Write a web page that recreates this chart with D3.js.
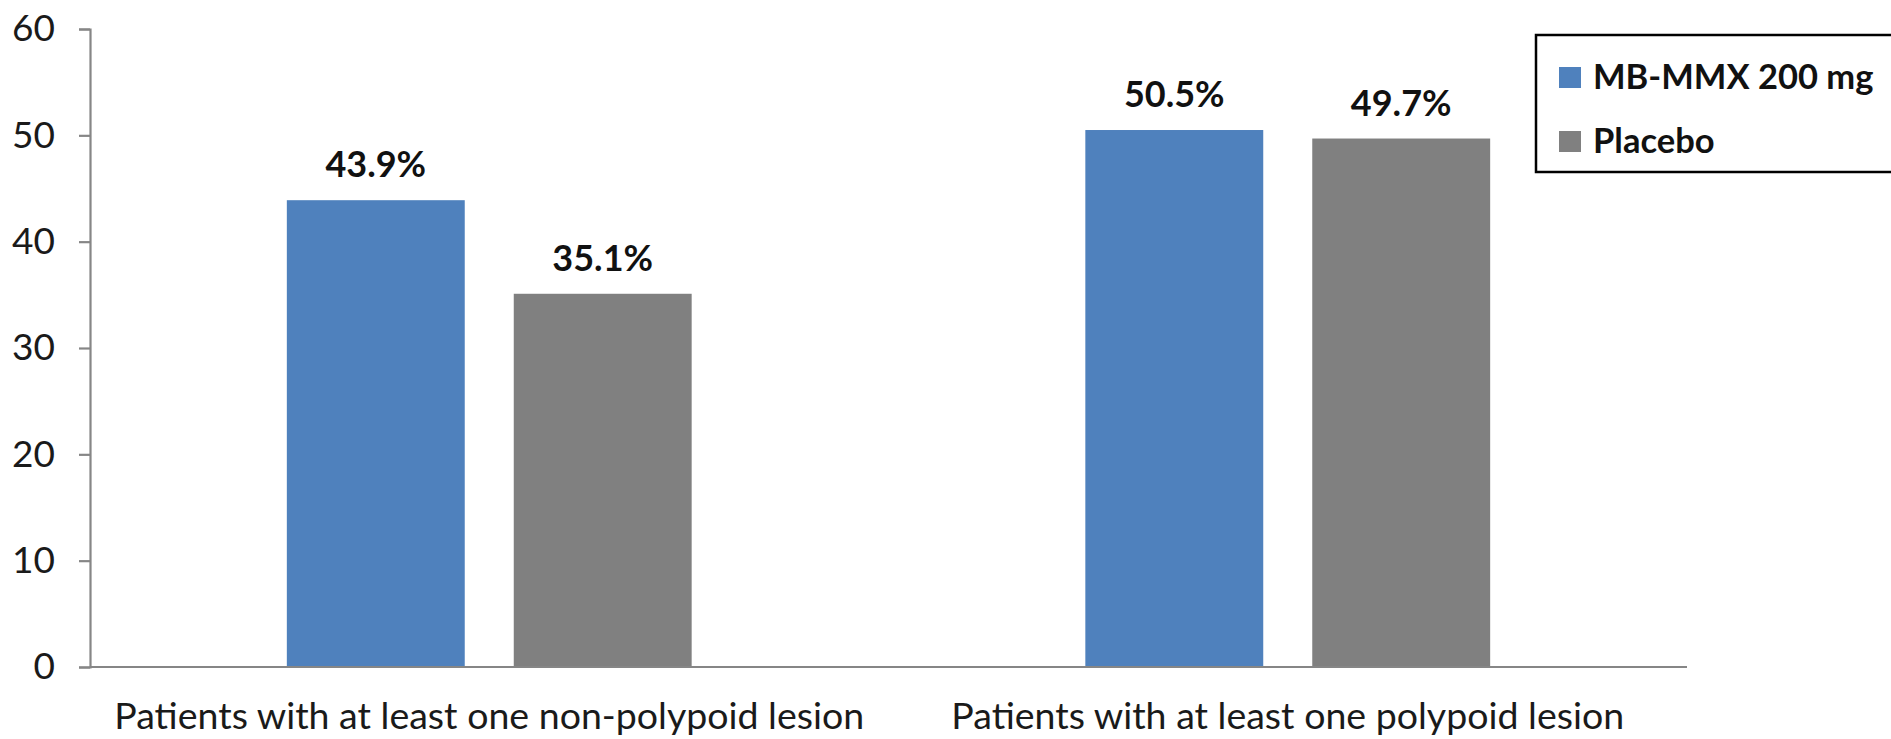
<!DOCTYPE html>
<html>
<head>
<meta charset="utf-8">
<script src="https://cdn.jsdelivr.net/npm/d3@7"></script>
<style>
  html, body { margin: 0; padding: 0; background: #fff; }
  svg { display: block; }
  text { font-family: Lato, "Open Sans", sans-serif; }
</style>
</head>
<body>
<svg id="chart" width="1891" height="739"></svg>
<script>
// Share of patients with detected lesions, by treatment arm (%)
const categories = [
  "Patients with at least one non-polypoid lesion",
  "Patients with at least one polypoid lesion"
];
const seriesNames = ["MB-MMX 200 mg", "Placebo"];
const mbMmxValues = [43.9, 50.5];
const placeboValues = [35.1, 49.7];
const yTicks = [0, 10, 20, 30, 40, 50, 60];

const colors = { "MB-MMX 200 mg": "#4f81bd", "Placebo": "#808080" };

const W = 1891, H = 739;
const margin = { top: 29, right: 204, bottom: 72, left: 90 };
const innerW = W - margin.left - margin.right;
const innerH = H - margin.top - margin.bottom;

const svg = d3.select("#chart");
const g = svg.append("g").attr("transform", `translate(${margin.left},${margin.top})`);

const y = d3.scaleLinear().domain([0, 60]).range([innerH, 0]);
const x0 = d3.scaleBand().domain(categories).range([0, innerW])
  .paddingInner(0.493).paddingOuter(0.2465);
const x1 = d3.scaleBand().domain(seriesNames).range([0, x0.bandwidth()])
  .paddingInner(0.216).paddingOuter(0);

const rows = categories.map((c, i) => ({
  category: c,
  values: [
    { series: seriesNames[0], value: mbMmxValues[i] },
    { series: seriesNames[1], value: placeboValues[i] }
  ]
}));

// Y axis
const yAxis = g.append("g")
  .call(d3.axisLeft(y).tickValues(yTicks).tickSize(11).tickPadding(24).tickFormat(d3.format("d")));
yAxis.select(".domain").attr("stroke", "#868686").attr("stroke-width", 2.2);
yAxis.selectAll(".tick line").attr("stroke", "#868686").attr("stroke-width", 2.2);
yAxis.selectAll(".tick text")
  .attr("fill", "#1a1a1a")
  .style("font-family", "Lato, sans-serif")
  .style("font-size", "37px");

// Bars
const groups = g.selectAll(".grp").data(rows).join("g")
  .attr("class", "grp")
  .attr("transform", d => `translate(${x0(d.category)},0)`);

groups.selectAll("rect").data(d => d.values).join("rect")
  .attr("x", d => x1(d.series))
  .attr("width", x1.bandwidth())
  .attr("y", d => y(d.value))
  .attr("height", d => innerH - y(d.value))
  .attr("fill", d => colors[d.series]);

groups.selectAll(".val").data(d => d.values).join("text")
  .attr("class", "val")
  .attr("x", d => x1(d.series) + x1.bandwidth() / 2)
  .attr("y", d => y(d.value) - 23)
  .attr("text-anchor", "middle")
  .attr("fill", "#111")
  .style("font-weight", "700")
  .style("font-size", "36px")
  .text(d => d.value.toFixed(1) + "%");

// X axis baseline
g.append("line")
  .attr("x1", 0).attr("x2", innerW)
  .attr("y1", innerH).attr("y2", innerH)
  .attr("stroke", "#868686").attr("stroke-width", 2.2);

// Category labels under each group
g.selectAll(".cat").data(categories).join("text")
  .attr("class", "cat")
  .attr("x", d => x0(d) + x0.bandwidth() / 2)
  .attr("y", innerH + 62)
  .attr("text-anchor", "middle")
  .attr("fill", "#1a1a1a")
  .style("font-size", "37.5px")
  .text(d => d);

// Legend
const legend = svg.append("g").attr("transform", "translate(1536,35)");
legend.append("rect")
  .attr("x", 0).attr("y", 0).attr("width", 358).attr("height", 137)
  .attr("fill", "#fff").attr("stroke", "#000").attr("stroke-width", 2.5);
const items = legend.selectAll(".item").data(seriesNames).join("g")
  .attr("class", "item")
  .attr("transform", (d, i) => `translate(23,${32 + i * 64})`);
items.append("rect").attr("width", 22).attr("height", 21).attr("fill", d => colors[d]);
items.append("text")
  .attr("x", 34).attr("y", 22)
  .attr("fill", "#111")
  .style("font-weight", "700")
  .style("font-size", "34.5px")
  .text(d => d);
</script>
</body>
</html>
